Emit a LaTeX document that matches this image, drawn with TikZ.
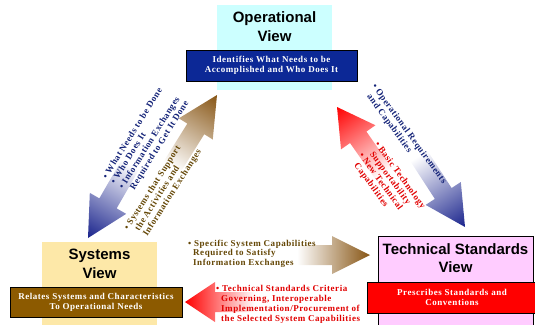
\documentclass[tikz,border=0pt]{standalone}
\usepackage{fontspec}
\setmainfont{Liberation Serif}
\newfontfamily\viewfont{Liberation Sans}
\newfontfamily\notefont[LetterSpace=6]{Liberation Serif}
\usepackage{tikz}
\usetikzlibrary{calc}
\usetikzlibrary{positioning}

\definecolor{opcyan}{RGB}{204,255,255}
\definecolor{opblue}{RGB}{12,40,150}
\definecolor{sysyellow}{RGB}{253,232,168}
\definecolor{sysbrown}{RGB}{140,90,0}
\definecolor{tspink}{RGB}{255,204,255}
\definecolor{tsred}{RGB}{255,0,0}
\definecolor{navytext}{RGB}{20,35,120}
\definecolor{browntext}{RGB}{100,70,5}
\definecolor{redtext}{RGB}{225,0,0}
\definecolor{arrblue}{RGB}{25,35,140}
\definecolor{arrbrown}{RGB}{135,85,20}
\definecolor{arrred}{RGB}{255,0,0}

\tikzset{
 viewtitle/.style={font=\viewfont\bfseries\fontsize{15}{18.5}\selectfont, align=center, inner sep=0pt},
 descbox/.style={draw=black, line width=.8pt, text=white, font=\notefont\bfseries\fontsize{9}{10}\selectfont, align=center, inner sep=0pt},
 note/.style={font=\notefont\bfseries\fontsize{9}{9.7}\selectfont, align=left, inner sep=0pt},
}

% block arrow: tip, angle, colour, shaft length, head length, head half width
\newcommand{\blockarrow}[6]{
 \shade[transform canvas={shift={(#1)},rotate=#2}, left color=white, middle color=#3!30, right color=#3]
  (0,0) -- (-#5,#6) -- (-#5,10) -- (-#5-#4,10) -- (-#5-#4,-10) -- (-#5,-10) -- (-#5,-#6) -- cycle;
}

\begin{document}
\begin{tikzpicture}[x=1pt,y=-1pt]
\useasboundingbox (0,0) rectangle (535,324);

% arrow tips
\coordinate (tipA) at (88,238);
\coordinate (tipB) at (217,95);
\coordinate (tipC) at (337,107);
\coordinate (tipD) at (465,227);
\coordinate (tipE) at (370,255);
\coordinate (tipF) at (185,302);

\blockarrow{tipA}{240}{arrblue}{45}{40}{21}
\blockarrow{tipB}{58}{arrbrown}{45}{40}{20}
\blockarrow{tipC}{125}{arrred}{45}{37}{21}
\blockarrow{tipD}{-57}{arrblue}{45}{40}{21}
\blockarrow{tipE}{0}{arrbrown}{35}{38}{19}
\blockarrow{tipF}{180}{arrred}{40}{30}{20}

% the three views
\node[fill=opcyan, minimum width=115pt, minimum height=85pt, inner sep=0pt] (op) at (274.5,47.5) {};
\node[viewtitle, below=7pt of op.north] (optitle) {Operational\\View};
\node[descbox, fill=opblue, minimum width=171pt, minimum height=31pt] (opdesc) at (271.5,65.5)
 {Identifies What Needs to be\\Accomplished and Who Does It};

\node[fill=sysyellow, minimum width=115pt, minimum height=84pt, inner sep=0pt] (sys) at (99.5,284) {};
\node[viewtitle, below=7.5pt of sys.north] (systitle) {Systems\\View};
\node[descbox, fill=sysbrown, minimum width=172pt, minimum height=30pt] (sysdesc) at (96,302)
 {Relates Systems and Characteristics\\To Operational Needs};

\node[draw=black, line width=.6pt, fill=tspink, minimum width=155pt, minimum height=92pt, inner sep=0pt] (ts) at (455.5,282) {};
\node[viewtitle, below=7.5pt of ts.north] (tstitle) {Technical Standards\\View};
\node[descbox, fill=tsred, minimum width=170pt, minimum height=31pt] (tsdesc) at (452,297.5)
 {Prescribes Standards and\\Conventions};

% notes on the arrows
\node[note, text=navytext, rotate=58] (whatnote) at (146,140)
 {\textbullet\ What Needs to be Done\\\textbullet\ Who Does It\\\textbullet\ Information Exchanges\\\hspace*{5pt}Required to Get It Done};
\node[note, text=browntext, rotate=57.5] (sysnote) at (163,190)
 {\textbullet\ Systems that Support\\\hspace*{5pt}the Activities and\\\hspace*{5pt}Information Exchanges};
\node[note, text=navytext, rotate=-54] (reqnote) at (405,137)
 {\textbullet\ Operational Requirements\\\hspace*{5pt}and Capabilities};
\node[note, text=redtext, rotate=-54] (technote) at (388,184)
 {\textbullet\ Basic Technology\\\hspace*{5pt}Supportability\\\textbullet\ New Technical\\\hspace*{5pt}Capabilities};
\node[note, text=browntext, anchor=north west] (capnote) at (188,239.5)
 {\textbullet\ Specific System Capabilities\\\hspace*{5pt}Required to Satisfy\\\hspace*{5pt}Information Exchanges};
\node[note, text=redtext, anchor=north west] (critnote) at (216,285.5)
 {\textbullet\ Technical Standards Criteria\\\hspace*{5pt}Governing, Interoperable\\\hspace*{5pt}Implementation/Procurement of\\\hspace*{5pt}the Selected System Capabilities};
\end{tikzpicture}
\end{document}
